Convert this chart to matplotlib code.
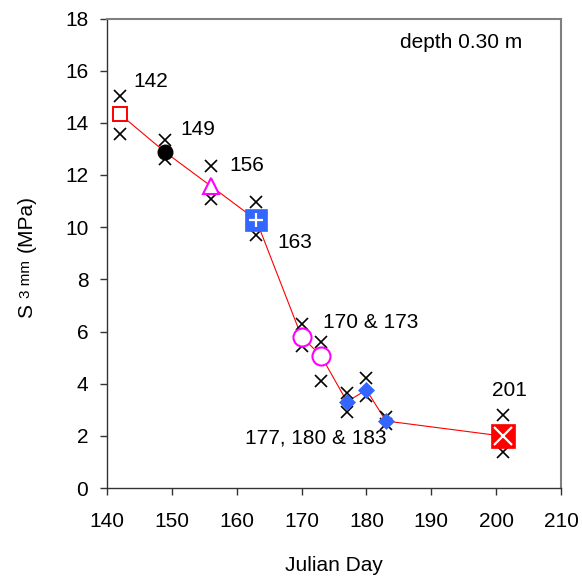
import matplotlib
matplotlib.use("Agg")
import matplotlib.pyplot as plt

plt.rcParams['font.family'] = ['Liberation Sans', 'DejaVu Sans']

# Julian days and mean penetration resistance
days = [142, 149, 156, 163, 170, 173, 177, 180, 183, 201]
means = [14.33, 12.87, 11.58, 10.28, 5.80, 5.07, 3.31, 3.76, 2.57, 1.99]

# Individual replicate readings (two per day)
rep_a = [15.04, 13.34, 12.36, 10.95, 6.29, 5.61, 3.63, 4.21, 2.72, 2.80]
rep_b = [13.56, 12.60, 11.08, 9.70, 5.44, 4.11, 2.93, 3.53, 2.45, 1.39]

BLUE = '#3366FF'
MAGENTA = '#FF00FF'
RED = '#FF0000'

fig = plt.figure(figsize=(5.82, 5.81), dpi=100)
ax = fig.add_axes([107 / 582, 1 - 488 / 581, (561 - 107) / 582, (488 - 18.5) / 581])

# connecting line through the daily means
ax.plot(days, means, color=RED, lw=0.8, zorder=2)

# replicate readings
ax.plot(days, rep_a, 'x', color='black', ms=8, mew=1.2, zorder=3, ls='none')
ax.plot(days, rep_b, 'x', color='black', ms=8, mew=1.2, zorder=3, ls='none')

# per-day mean markers
styles = {
    142: dict(marker='s', ms=10.5, mfc='white', mec=RED, mew=1.4),
    149: dict(marker='o', ms=10.5, mfc='black', mec='black', mew=1),
    156: dict(marker='^', ms=11, mfc='white', mec=MAGENTA, mew=1.5),
    163: dict(marker='s', ms=15.8, mfc=BLUE, mec=BLUE, mew=0.5),
    170: dict(marker='o', ms=13, mfc='white', mec=MAGENTA, mew=1.5),
    173: dict(marker='o', ms=13, mfc='white', mec=MAGENTA, mew=1.5),
    177: dict(marker='D', ms=7.8, mfc=BLUE, mec=BLUE, mew=0.5),
    180: dict(marker='D', ms=7.8, mfc=BLUE, mec=BLUE, mew=0.5),
    183: dict(marker='D', ms=7.8, mfc=BLUE, mec=BLUE, mew=0.5),
    201: dict(marker='s', ms=17.3, mfc=RED, mec=RED, mew=0.5),
}
for d, m in zip(days, means):
    ax.plot([d], [m], ls='none', zorder=4, **styles[d])
    if d == 163:
        ax.plot([d], [m], marker='+', ms=10, mew=1.6, color='white', zorder=5, ls='none')
    if d == 201:
        ax.plot([d], [m], marker='x', ms=13, mew=1.6, color='white', zorder=5, ls='none')

# day annotations
notes = [
    ('142', 144.0, 15.57, 'left'),
    ('149', 151.35, 13.73, 'left'),
    ('156', 158.85, 12.36, 'left'),
    ('163', 166.2, 9.40, 'left'),
    ('170 & 173', 173.35, 6.34, 'left'),
    ('177, 180 & 183', 183.1, 1.92, 'right'),
    ('201', 202.0, 3.72, 'center'),
]
for txt, x, y, ha in notes:
    ax.text(x, y, txt, ha=ha, va='center', fontsize=15)

ax.text(185.2, 17.09, 'depth 0.30 m', ha='left', va='center', fontsize=15)

ax.set_xlim(140, 210)
ax.set_ylim(0, 18)
ax.set_xticks(range(140, 211, 10))
ax.set_yticks(range(0, 19, 2))
ax.tick_params(axis='both', direction='out', length=5, width=1, labelsize=15, color='#333333')
ax.tick_params(axis='x', pad=12.5)
ax.tick_params(axis='y', pad=8.5)

for s in ['left', 'bottom']:
    ax.spines[s].set_color('#333333')
    ax.spines[s].set_linewidth(1.0)
for s in ['top', 'right']:
    ax.spines[s].set_color('#808080')
    ax.spines[s].set_linewidth(1.5)

ax.set_xlabel('Julian Day', fontsize=15, labelpad=18)

# y-axis title built from pieces: "S", smaller "3 mm", "(MPa)"
fs_big, fs_small = 15, 11
kw = dict(rotation=90, rotation_mode='anchor', ha='left', va='baseline')
fig.text(32 / 582, 1 - 318 / 581, 'S', fontsize=fs_big, **kw)
fig.text(30.5 / 582, 1 - 298 / 581, '3 mm', fontsize=fs_small, **kw)
fig.text(32 / 582, 1 - 252 / 581, '(MPa)', fontsize=fs_big, **kw)

fig.savefig('out.png', dpi=100)
